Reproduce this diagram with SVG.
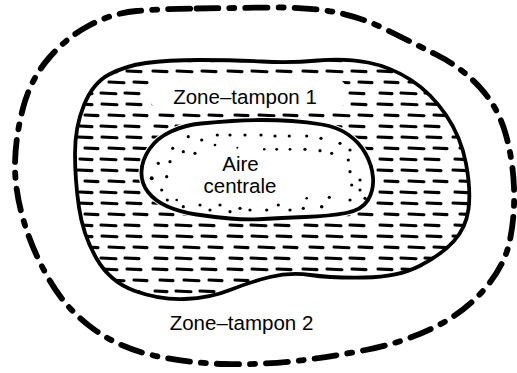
<svg xmlns="http://www.w3.org/2000/svg" width="517" height="373" viewBox="0 0 517 373">
<style>
.lbl{font-family:"Liberation Sans",Arial,sans-serif;font-size:20.5px;fill:#000;text-anchor:middle}
.bnd{fill:none;stroke:#000;stroke-width:3.8;stroke-linejoin:round}
.dash{stroke:#000;stroke-width:3.1;stroke-linecap:round}
</style>
<defs>
<pattern id="hatch" patternUnits="userSpaceOnUse" x="0" y="0" width="75" height="33">
<line class="dash" x1="3" y1="5" x2="17" y2="5.6"/>
<line class="dash" x1="27" y1="5" x2="42" y2="5.7"/>
<line class="dash" x1="52" y1="5" x2="66" y2="5.6"/>
<line class="dash" x1="10" y1="16" x2="23" y2="16.6"/>
<line class="dash" x1="34" y1="16" x2="49" y2="16.7"/>
<line class="dash" x1="59" y1="16" x2="72" y2="16.6"/>
<line class="dash" x1="5" y1="27" x2="17" y2="27.6"/>
<line class="dash" x1="26" y1="27" x2="41" y2="27.7"/>
<line class="dash" x1="50" y1="27" x2="64" y2="27.6"/>
</pattern>
<mask id="mid" maskUnits="userSpaceOnUse" x="0" y="0" width="517" height="373">
<path fill="#fff" d="M 146,63 Q 167,60 200,60 Q 233,60 262,61.5 Q 291,63 318,60.5 Q 345,58 368,62.5 Q 391,67 411,80 Q 431,93 446,115 Q 461,137 466,163.5 Q 471,190 468.5,209 Q 466,228 453.5,241.5 Q 441,255 419.5,266 Q 398,277 364.5,277.5 Q 331,278 310.5,275 Q 290,272 270,277 Q 250,282 230,290 Q 210,298 185,299 Q 160,300 135,291 Q 110,282 96.5,258.5 Q 83,235 79,207.5 Q 75,180 75,153.5 Q 75,127 84,105 Q 93,83 109,74.5 Q 125,66 146,63 Z"/>
<path fill="#000" stroke="#000" stroke-width="6" d="M 201,123.5 Q 217,122 232,121 Q 247,120 262,120 Q 277,120 292,121 Q 307,122 322,124.5 Q 337,127 348,134.5 Q 359,142 365.5,153.5 Q 372,165 373,177.5 Q 374,190 368,200 Q 362,210 346,213 Q 330,216 305,217 Q 280,218 263.5,219 Q 247,220 230,218.5 Q 213,217 196.5,214.5 Q 180,212 167.5,206.5 Q 155,201 148,192 Q 141,183 141.5,171.5 Q 142,160 149.5,149 Q 157,138 171,131.5 Q 185,125 201,123.5 Z"/>
<rect fill="#000" x="150" y="78" width="196" height="32" rx="12"/>
</mask>
</defs>

<g id="zone-tampon-2">
<path fill="none" stroke="#000" stroke-width="5.8" stroke-linecap="round" stroke-dasharray="22 11 5 11" d="M 196.5,8.5 Q 233,8 270.5,7.5 Q 308,7 334.5,12 Q 361,17 387,30 Q 413,43 437,55 Q 461,67 479.5,87 Q 498,107 505.5,133.5 Q 513,160 514,187.5 Q 515,215 510,240 Q 505,265 485,288.5 Q 465,312 435,327 Q 405,342 368,349.5 Q 331,357 295.5,361 Q 260,365 223.5,364 Q 187,363 153.5,355.5 Q 120,348 93.5,329 Q 67,310 50,281 Q 33,252 24,222 Q 15,192 15,166 Q 15,140 22.5,110 Q 30,80 48.5,58.5 Q 67,37 90,25 Q 113,13 136.5,11 Q 160,9 196.5,8.5 Z"/>
<text class="lbl" x="241.5" y="330">Zone–tampon 2</text>
</g>

<g id="zone-tampon-1">
<rect x="0" y="0" width="517" height="373" fill="url(#hatch)" mask="url(#mid)"/>
<path class="bnd" d="M 146,63 Q 167,60 200,60 Q 233,60 262,61.5 Q 291,63 318,60.5 Q 345,58 368,62.5 Q 391,67 411,80 Q 431,93 446,115 Q 461,137 466,163.5 Q 471,190 468.5,209 Q 466,228 453.5,241.5 Q 441,255 419.5,266 Q 398,277 364.5,277.5 Q 331,278 310.5,275 Q 290,272 270,277 Q 250,282 230,290 Q 210,298 185,299 Q 160,300 135,291 Q 110,282 96.5,258.5 Q 83,235 79,207.5 Q 75,180 75,153.5 Q 75,127 84,105 Q 93,83 109,74.5 Q 125,66 146,63 Z"/>
<text class="lbl" x="245" y="104">Zone–tampon 1</text>
</g>

<g id="aire-centrale">
<path class="bnd" d="M 201,123.5 Q 217,122 232,121 Q 247,120 262,120 Q 277,120 292,121 Q 307,122 322,124.5 Q 337,127 348,134.5 Q 359,142 365.5,153.5 Q 372,165 373,177.5 Q 374,190 368,200 Q 362,210 346,213 Q 330,216 305,217 Q 280,218 263.5,219 Q 247,220 230,218.5 Q 213,217 196.5,214.5 Q 180,212 167.5,206.5 Q 155,201 148,192 Q 141,183 141.5,171.5 Q 142,160 149.5,149 Q 157,138 171,131.5 Q 185,125 201,123.5 Z"/>
<g fill="#000">
<circle cx="188.3" cy="136.7" r="1.6"/><circle cx="201.7" cy="140" r="1.6"/><circle cx="217.3" cy="135" r="1.6"/><circle cx="230" cy="135" r="1.6"/><circle cx="245" cy="135" r="1.6"/><circle cx="261" cy="135" r="1.6"/><circle cx="275" cy="136" r="1.6"/><circle cx="289.3" cy="136" r="1.6"/><circle cx="306.7" cy="136" r="1.6"/><circle cx="321" cy="138.3" r="1.6"/><circle cx="340" cy="143.3" r="1.6"/><circle cx="350" cy="150" r="1.6"/>
<circle cx="183.3" cy="151.7" r="1.6"/><circle cx="195" cy="153.3" r="1.6"/><circle cx="215" cy="145" r="1.3"/><circle cx="237.3" cy="147.7" r="1"/><circle cx="264.3" cy="149.3" r="1.3"/><circle cx="276.7" cy="149.3" r="1.4"/><circle cx="290" cy="149.3" r="1.4"/><circle cx="305" cy="149.3" r="1.6"/><circle cx="320" cy="150.7" r="1.6"/><circle cx="331.7" cy="153.3" r="1.6"/><circle cx="348.3" cy="160" r="1.6"/>
<circle cx="172.7" cy="148.3" r="1.6"/><circle cx="158.3" cy="163.3" r="1.6"/><circle cx="170" cy="161.7" r="1.6"/><circle cx="151.7" cy="178.3" r="2"/><circle cx="166.7" cy="176.7" r="1.6"/><circle cx="161.7" cy="190" r="1.6"/><circle cx="167.3" cy="200" r="1.6"/><circle cx="176.7" cy="200" r="1.3"/>
<circle cx="350" cy="171.7" r="1.6"/><circle cx="360" cy="180" r="1.6"/><circle cx="351.7" cy="185" r="1.6"/><circle cx="360" cy="190" r="1.6"/><circle cx="365" cy="198.3" r="1.6"/><circle cx="350" cy="200" r="1.6"/><circle cx="329.3" cy="197.3" r="1.6"/><circle cx="321.7" cy="206.7" r="1.8"/>
<circle cx="183.3" cy="206.7" r="1.6"/><circle cx="200" cy="205" r="1.6"/><circle cx="210" cy="210" r="1.6"/><circle cx="220" cy="205" r="1.6"/><circle cx="230" cy="211.7" r="1.6"/><circle cx="240" cy="208.3" r="1.6"/><circle cx="250" cy="210" r="1.6"/><circle cx="266.7" cy="210" r="1.6"/><circle cx="278.3" cy="205" r="1.6"/><circle cx="290" cy="210" r="1.6"/><circle cx="303.3" cy="208.3" r="1.6"/><circle cx="306.7" cy="198.3" r="1.3"/>
</g>
<text class="lbl" x="240.5" y="171">Aire</text>
<text class="lbl" x="240" y="193">centrale</text>
</g>
</svg>
